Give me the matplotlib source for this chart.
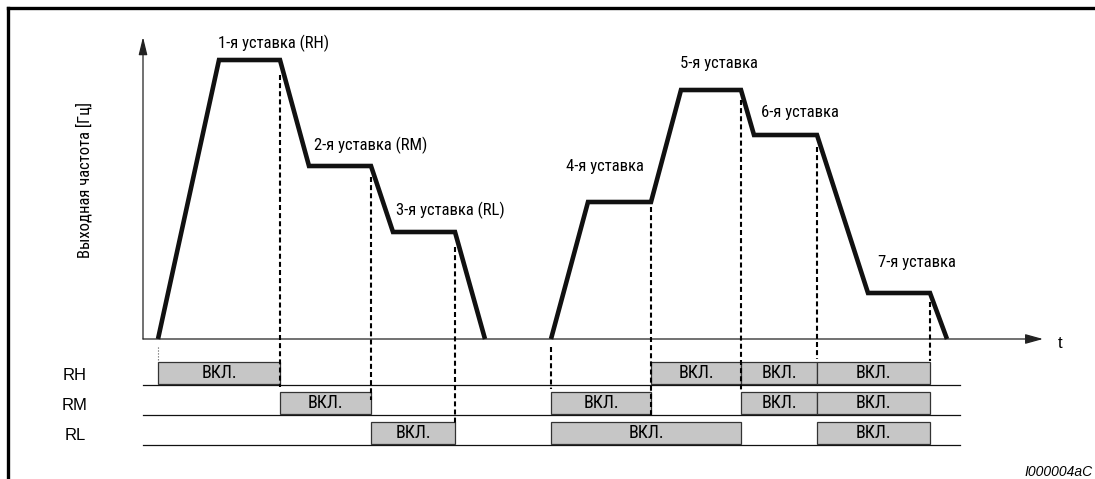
import matplotlib
matplotlib.use("Agg")
import matplotlib.pyplot as plt
from matplotlib import font_manager as fm
from matplotlib.lines import Line2D
from matplotlib.patches import Rectangle

# Output frequency profile (time and frequency in arbitrary units, origin at axes cross)
run1_t = [15, 76, 137, 166, 228, 250, 312, 342]
run1_f = [0, 279, 279, 173, 173, 107, 107, 0]
run2_t = [408, 445, 508, 538, 598, 611, 674, 725, 787, 804]
run2_f = [0, 137, 137, 249, 249, 204, 204, 46, 46, 0]

# Relay signals: on-intervals (start, end) per input
relays = ["RH", "RM", "RL"]
rh_on = [(15, 137), (508, 598), (598, 674), (674, 787)]
rm_on = [(137, 228), (408, 508), (598, 674), (674, 787)]
rl_on = [(228, 312), (408, 598), (674, 787)]
on_text = "ВКЛ."

# Switching instants with dashed guide extents
switch_t = [137, 228, 312, 408, 508, 598, 674, 787]
switch_top = [264, 162, 92, -8, 132, 239, 192, 37]
switch_bot = [-48, -61, -84, -50, -78, -51, -20, -22]

setpoint_labels = ["1-я уставка (RH)", "2-я уставка (RM)", "3-я уставка (RL)",
                   "4-я уставка", "5-я уставка", "6-я уставка", "7-я уставка"]
label_xy = [(75, 296), (171, 194), (253, 129), (423, 172), (537, 276), (618, 227), (735, 76)]

# pick a narrow font if one is installed
names = {f.name for f in fm.fontManager.ttflist}
narrow = dict(family="DejaVu Sans", fontstretch="condensed")
for cand in ["Liberation Sans Narrow", "Roboto Condensed", "Noto Sans Condensed",
             "Open Sans Condensed", "DejaVu Sans Condensed"]:
    if cand in names:
        narrow = dict(family=cand)
        break
else:
    if not any(f.name == "DejaVu Sans" and f.stretch == "condensed" for f in fm.fontManager.ttflist):
        narrow = dict(family="Liberation Sans", fontstretch="condensed")
arial = "Liberation Sans" if "Liberation Sans" in names else "DejaVu Sans"

fig = plt.figure(figsize=(10.95, 4.79), dpi=100)
ax = fig.add_axes([0, 0, 1, 1])
ax.set_xlim(-143, 952)
ax.set_ylim(-140, 339)
ax.axis("off")

# frame (left and top edges)
fx, fy = 8 / 1095, 1 - 8 / 479
fig.add_artist(Line2D([fx, fx], [0, fy], transform=fig.transFigure, color="black", lw=2.4))
fig.add_artist(Line2D([fx, 1], [fy, fy], transform=fig.transFigure, color="black", lw=2.4))

# axes with arrows
ax.annotate("", xy=(0, 302), xytext=(0, 0),
            arrowprops=dict(arrowstyle="-|>,head_length=0.9,head_width=0.22", lw=0.9,
                            color="#222222", shrinkA=0, shrinkB=0, mutation_scale=12))
ax.annotate("", xy=(900, 0), xytext=(0, 0),
            arrowprops=dict(arrowstyle="-|>,head_length=0.9,head_width=0.25", lw=0.9,
                            color="#222222", shrinkA=0, shrinkB=0, mutation_scale=12))
ax.text(917, -4, "t", family=arial, fontsize=12, ha="center", va="center")
ax.text(-59, 159, "Выходная частота [Гц]", rotation=90, fontsize=12,
        ha="center", va="center", **narrow)

# frequency profile
for t, f in [(run1_t, run1_f), (run2_t, run2_f)]:
    ax.plot(t, f, color="#111111", lw=3.3, solid_joinstyle="miter", solid_capstyle="butt", zorder=4)

for (x, y), lab in zip(label_xy, setpoint_labels):
    ax.text(x, y, lab, fontsize=12, ha="left", va="center", **narrow)

# relay rows
row_base = [-46, -76, -106]
box_h = 22
for name, base, spans in zip(relays, row_base, [rh_on, rm_on, rl_on]):
    ax.plot([0, 817], [base, base], color="#111111", lw=0.9, zorder=2)
    ax.text(-68, base + 10, name, family=arial, fontsize=12, ha="center", va="center")
    for s, e in spans:
        ax.add_patch(Rectangle((s, base + 1.5), e - s, box_h, facecolor="#c6c6c6",
                               edgecolor="#333333", lw=0.9, zorder=3))
        ax.text((s + e) / 2, base + 1.5 + box_h / 2, on_text, fontsize=13,
                ha="center", va="center", zorder=5, **narrow)

# dashed guides
for x, top, bot in zip(switch_t, switch_top, switch_bot):
    ax.plot([x, x], [top, bot], color="black", lw=1.5, ls=(0, (2.4, 1.5)), zorder=4)
ax.plot([rh_on[0][0]] * 2, [-8, -23], color="#555555", lw=0.8, ls=":", zorder=4)

ax.text(950, -133, "I000004aC", family=arial, fontsize=10, style="italic",
        ha="right", va="center")

fig.savefig("out.png", dpi=100)
